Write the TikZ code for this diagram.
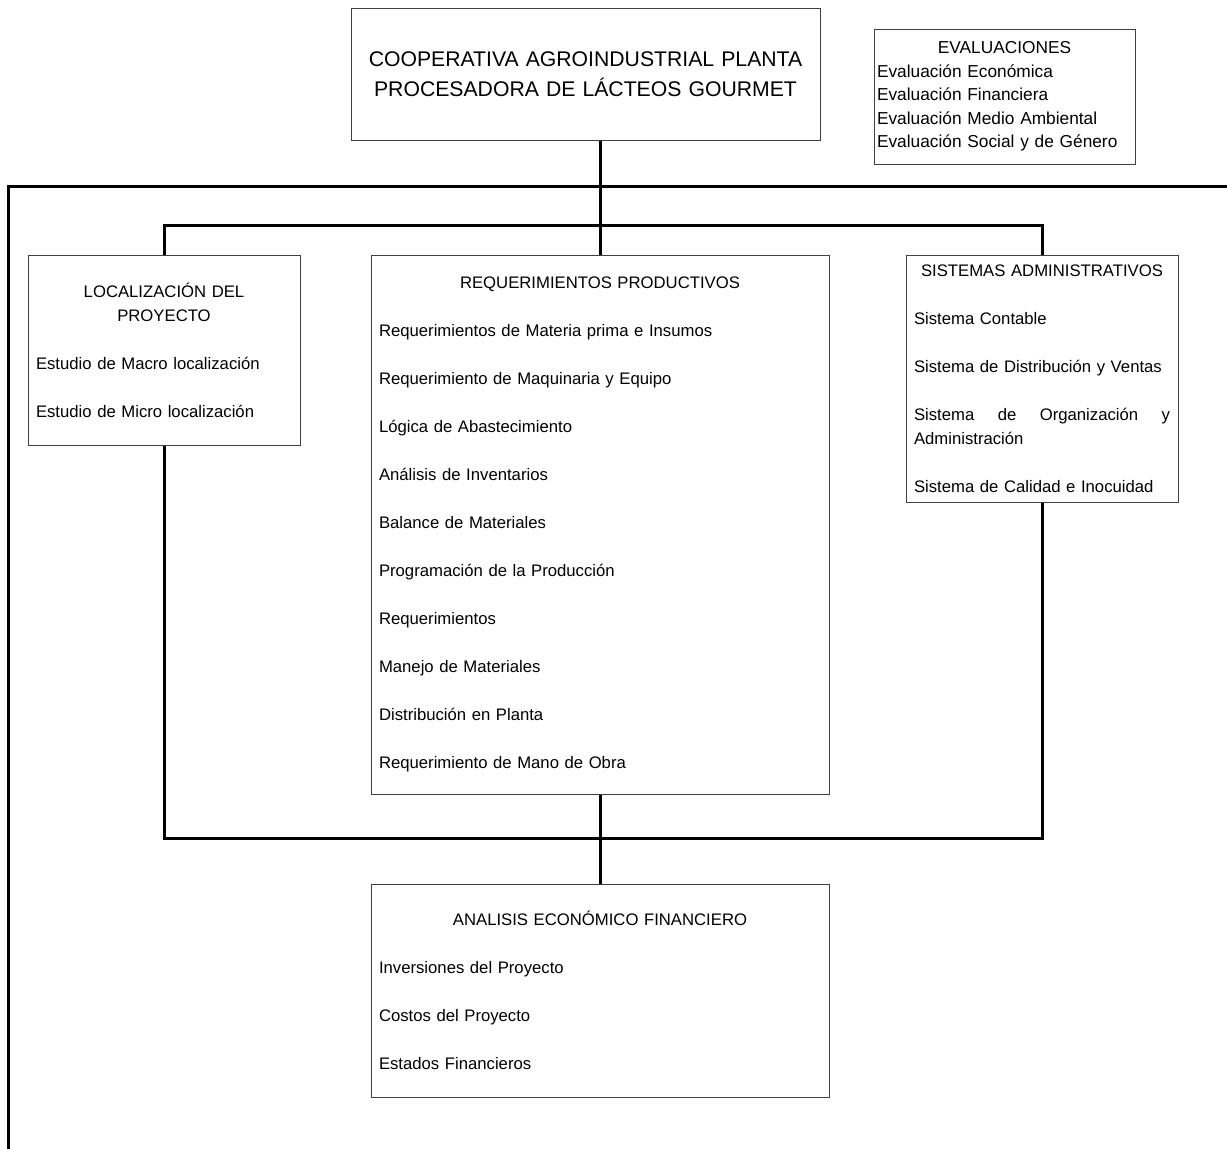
\documentclass[tikz,border=0pt]{standalone}
\usepackage{fontspec}
\setmainfont{Liberation Sans}
\hyphenpenalty=10000
\newcommand\ttl[1]{\makebox[\hsize]{#1}}
\tikzset{
  caja/.style={draw=black!75,line width=1pt,inner sep=8pt,align=left,
    font=\fontsize{16.7}{24}\selectfont},
  conn/.style={line width=3pt},
}

\begin{document}
\begin{tikzpicture}[x=1pt,y=-1pt]
   \useasboundingbox (0,0) rectangle (1227,1149);
   % cabecera
   \node[caja,align=center,text width=453pt,minimum height=132pt,
     font=\fontsize{21.2}{30}\selectfont] (coop) at (585.5,74)
     {COOPERATIVA AGROINDUSTRIAL PLANTA\\PROCESADORA DE LÁCTEOS GOURMET};
   \node[caja,inner sep=3pt,text width=255pt,minimum height=135pt,
     font=\fontsize{17.3}{23.5}\selectfont] (eval) at (1004.5,96.5)
     {\ttl{EVALUACIONES}\\Evaluación Económica\\Evaluación Financiera\\
      Evaluación Medio Ambiental\\Evaluación Social y de Género};
   % estudios
   \node[caja,text width=256pt,minimum height=190pt] (loc) at (164,350)
     {\ttl{LOCALIZACIÓN DEL}\\\ttl{PROYECTO}\\[24pt]
      Estudio de Macro localización\\[24pt]Estudio de Micro localización};
   \node[caja,text width=442pt,minimum height=539pt] (req) at (600,524.5)
     {\ttl{REQUERIMIENTOS PRODUCTIVOS}\\[24pt]
      Requerimientos de Materia prima e Insumos\\[24pt]
      Requerimiento de Maquinaria y Equipo\\[24pt]
      Lógica de Abastecimiento\\[24pt]
      Análisis de Inventarios\\[24pt]
      Balance de Materiales\\[24pt]
      Programación de la Producción\\[24pt]
      Requerimientos\\[24pt]
      Manejo de Materiales\\[24pt]
      Distribución en Planta\\[24pt]
      Requerimiento de Mano de Obra};
   \node[caja,text width=256pt,minimum height=247pt] (sis) at (1042,378.5)
     {\ttl{SISTEMAS ADMINISTRATIVOS}\\[24pt]
      Sistema Contable\\[24pt]
      Sistema de Distribución y Ventas\\[24pt]
      Sistema\hfill de\hfill Organización\hfill y\\Administración\\[24pt]
      Sistema de Calidad e Inocuidad};
   \node[caja,text width=442pt,minimum height=213pt] (ana) at (600,990.5)
     {\ttl{ANALISIS ECONÓMICO FINANCIERO}\\[24pt]
      Inversiones del Proyecto\\[24pt]
      Costos del Proyecto\\[24pt]
      Estados Financieros};
   % lineas
   \coordinate (esqA) at (8,1149);
   \coordinate (esqB) at (1227,186);
   \coordinate (bus) at (600,225);
   \coordinate (union) at (600,838);
   \draw[conn] (esqA) |- (esqB);
   \draw[conn] (coop.south -| req.north) -- (req.north);
   \draw[conn] (loc.north) |- (bus) -| (sis.north);
   \draw[conn] (loc.south) |- (union) -| (sis.south);
   \draw[conn] (req.south) -- (ana.north);
\end{tikzpicture}
\end{document}
